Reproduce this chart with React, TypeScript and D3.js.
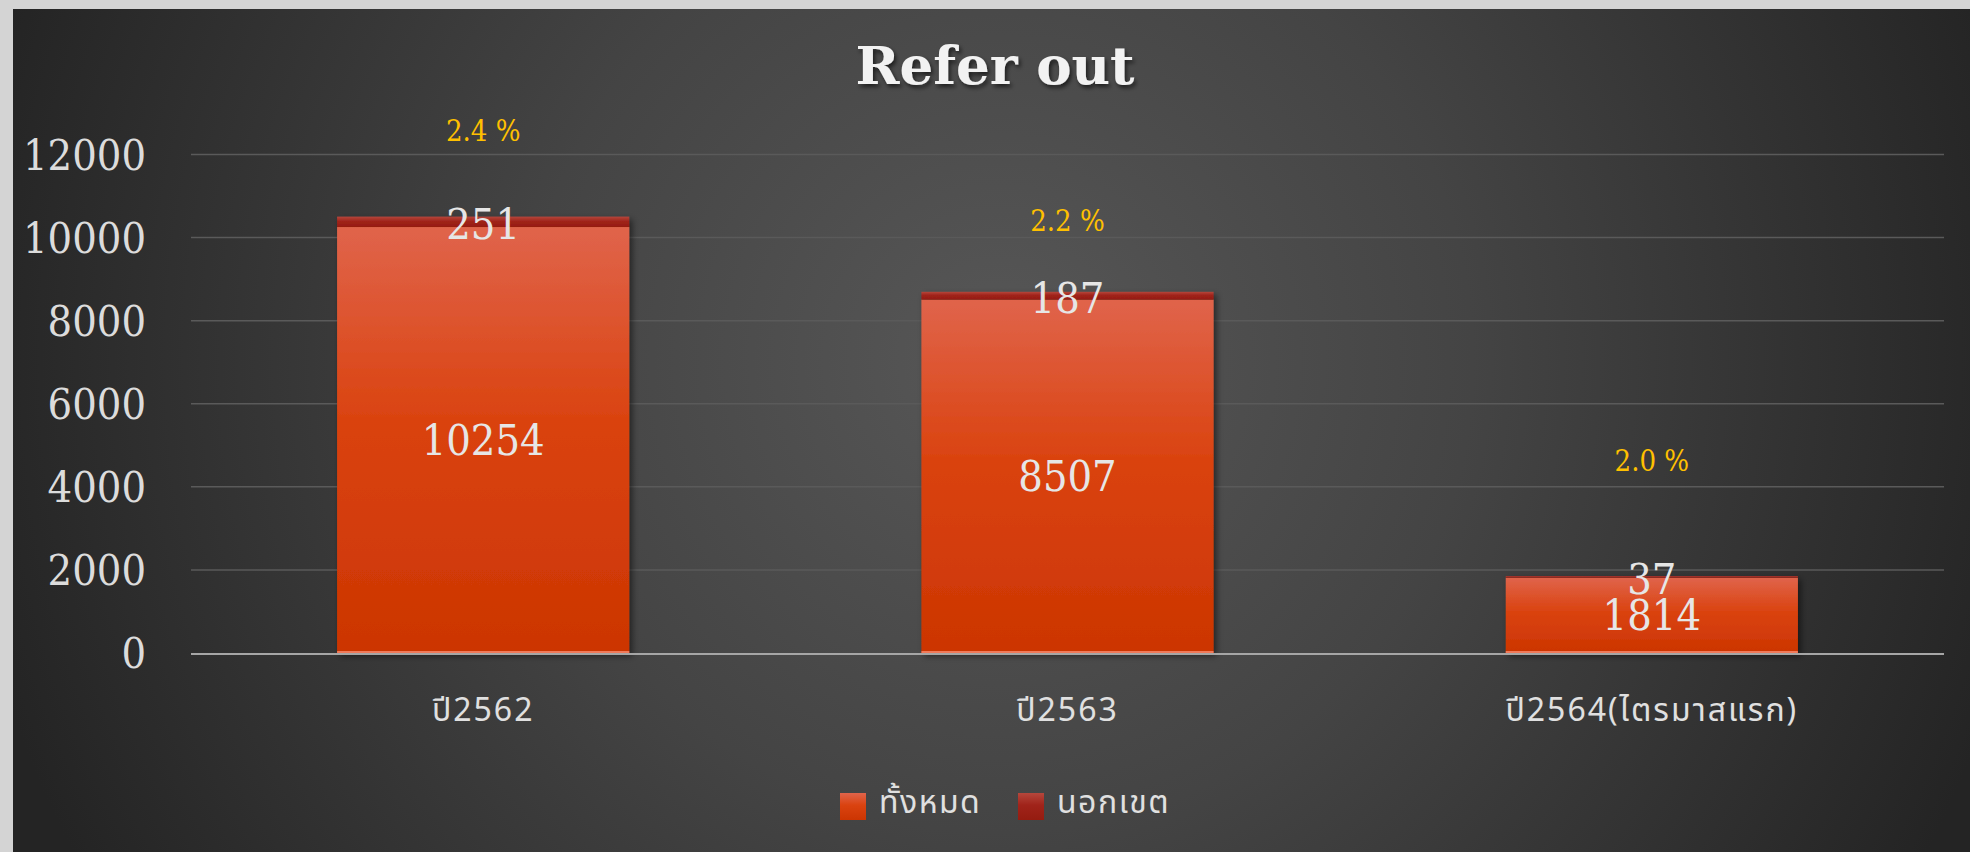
import React from "react";
import * as d3 from "d3";

const categories = ["ปี2562", "ปี2563", "ปี2564(ไตรมาสแรก)"];
const totalValues = [10254, 8507, 1814];
const outsideValues = [251, 187, 37];
const seriesNames = ["ทั้งหมด", "นอกเขต"];
const percentLabels = ["2.4 %", "2.2 %", "2.0 %"];
const percentAnchor = [12560, 10400, 4620];
const yTicks = [0, 2000, 4000, 6000, 8000, 10000, 12000];
const title = "Refer out";

const W = 1970;
const H = 852;
const serif = "'DejaVu Serif Condensed', 'DejaVu Serif', serif";
const thai = "'Noto Sans Thai', 'Noto Sans', 'DejaVu Sans', sans-serif";

export default function App() {
  const x = d3
    .scaleBand<string>()
    .domain(categories)
    .range([191, 1944])
    .paddingInner(0.5)
    .paddingOuter(0.25);
  const y = d3.scaleLinear().domain([0, 12000]).range([653, 154.5]);
  const bw = x.bandwidth();

  return (
    <svg
      width={W}
      height={H}
      style={{ position: "absolute", left: 0, top: 0 }}
    >
      <defs>
        <radialGradient id="bg" gradientUnits="userSpaceOnUse" cx={1000} cy={360} r={1050}>
          <stop offset="0" stopColor="#575757" />
          <stop offset="0.45" stopColor="#444444" />
          <stop offset="1" stopColor="#242424" />
        </radialGradient>
        <linearGradient id="g1" x1="0" y1="0" x2="0" y2="1">
          <stop offset="0" stopColor="#e0644b" />
          <stop offset="0.45" stopColor="#da4310" />
          <stop offset="1" stopColor="#cc3502" />
        </linearGradient>
        <linearGradient id="g2" x1="0" y1="0" x2="0" y2="1">
          <stop offset="0" stopColor="#b5473c" />
          <stop offset="0.45" stopColor="#a0231a" />
          <stop offset="1" stopColor="#951c10" />
        </linearGradient>
        <filter id="shadow" x="-10%" y="-10%" width="130%" height="130%">
          <feDropShadow dx="3" dy="3" stdDeviation="3" floodColor="#000" floodOpacity="0.5" />
        </filter>
        <filter id="tshadow" x="-10%" y="-20%" width="130%" height="150%">
          <feDropShadow dx="2" dy="3" stdDeviation="2" floodColor="#000" floodOpacity="0.6" />
        </filter>
      </defs>
      <rect x={0} y={0} width={W} height={H} fill="#d4d4d4" />
      <rect x={13} y={9} width={W - 13} height={H - 9} fill="url(#bg)" />

      <text
        x={995}
        y={84}
        textAnchor="middle"
        fontFamily="'DejaVu Serif', serif"
        fontWeight={900}
        fontSize={53}
        fill="#f2f2f2"
        filter="url(#tshadow)"
      >
        {title}
      </text>

      {yTicks.map((t) => (
        <g key={t}>
          {t !== 0 && (
            <line x1={191} x2={1944} y1={y(t)} y2={y(t)} stroke="#5a5a5a" strokeWidth={1.5} />
          )}
          <text
            x={146}
            y={y(t)}
            textAnchor="end"
            dominantBaseline="central"
            fontFamily={serif}
            fontStretch="condensed"
            fontSize={43}
            fill="#dcdcdc"
          >
            {t}
          </text>
        </g>
      ))}

      {categories.map((c, i) => {
        const x0 = x(c)!;
        const tot = totalValues[i];
        const out = outsideValues[i];
        return (
          <g key={c}>
            <g filter="url(#shadow)">
              <rect x={x0} y={y(tot)} width={bw} height={y(0) - y(tot)} fill="url(#g1)" />
              <rect x={x0} y={y(tot + out)} width={bw} height={y(tot) - y(tot + out)} fill="url(#g2)" />
            </g>
            <rect x={x0} y={y(0) - 2} width={bw} height={2} fill="#f07a5a" />
          </g>
        );
      })}

      <line x1={191} x2={1944} y1={y(0) + 1} y2={y(0) + 1} stroke="#a6a6a6" strokeWidth={2} />

      {categories.map((c, i) => {
        const cx = x(c)! + bw / 2;
        const tot = totalValues[i];
        const out = outsideValues[i];
        return (
          <g key={c + "l"}>
            <text
              x={cx}
              y={y(tot / 2)}
              textAnchor="middle"
              dominantBaseline="central"
              fontFamily={serif}
              fontStretch="condensed"
              fontSize={43}
              fill="#e6e6e6"
            >
              {tot}
            </text>
            <text
              x={cx}
              y={y(tot + out / 2) + 2}
              textAnchor="middle"
              dominantBaseline="central"
              fontFamily={serif}
              fontStretch="condensed"
              fontSize={43}
              fill="#e6e6e6"
            >
              {out}
            </text>
            <text
              x={cx}
              y={y(percentAnchor[i])}
              textAnchor="middle"
              dominantBaseline="central"
              fontFamily={serif}
              fontStretch="condensed"
              fontSize={29}
              fill="#ffc000"
            >
              {percentLabels[i]}
            </text>
            <text
              x={cx}
              y={721}
              textAnchor="middle"
              fontFamily={thai}
              fontSize={32}
              letterSpacing={2}
              fill="#e0e0e0"
            >
              {c}
            </text>
          </g>
        );
      })}

      {seriesNames.map((s, i) => (
        <g key={s} transform={`translate(${840 + i * 178},793)`}>
          <rect x={0} y={0} width={26} height={27} fill={i === 0 ? "url(#g1)" : "url(#g2)"} />
          <text x={39} y={20} fontFamily={thai} fontSize={32} letterSpacing={1.5} fill="#e0e0e0">
            {s}
          </text>
        </g>
      ))}
    </svg>
  );
}
